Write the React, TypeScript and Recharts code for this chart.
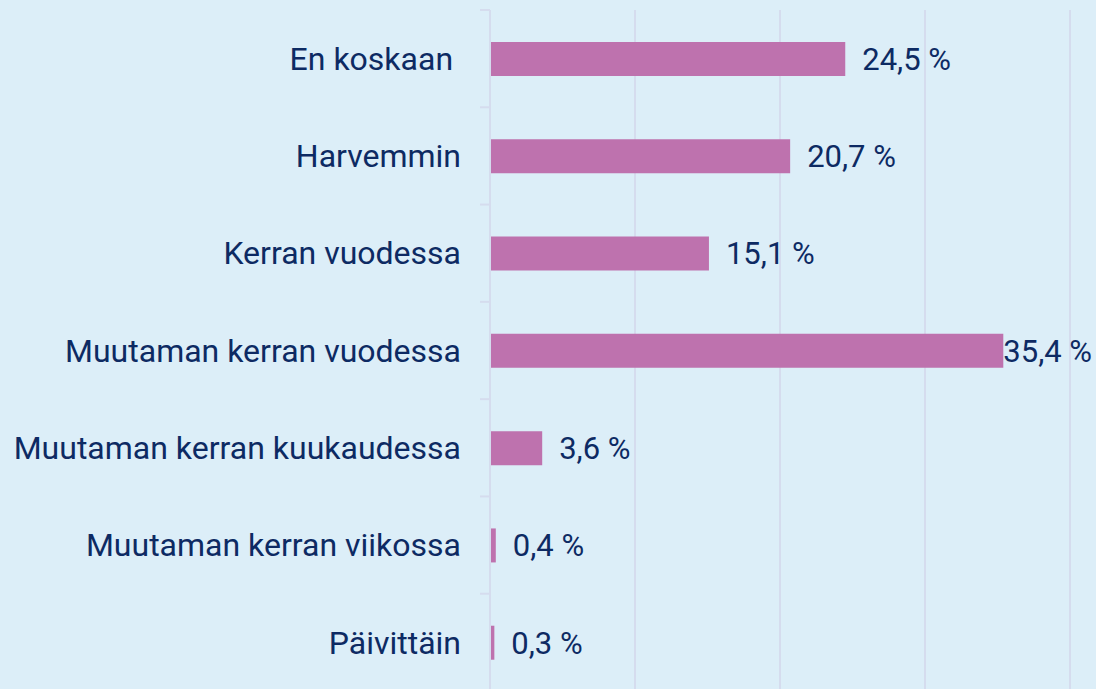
import React from "react";
import { BarChart, Bar, XAxis, YAxis, CartesianGrid, LabelList } from "recharts";

const categories = [
  "En koskaan ",
  "Harvemmin",
  "Kerran vuodessa",
  "Muutaman kerran vuodessa",
  "Muutaman kerran kuukaudessa",
  "Muutaman kerran viikossa",
  "Päivittäin",
];
const shares = [24.5, 20.7, 15.1, 35.4, 3.6, 0.4, 0.3];
const xTicks = [0, 10, 20, 30, 40];

const data = categories.map((name, i) => ({ name, value: shares[i] }));

const W = 1096;
const H = 689;
const TOP = 10;
const BOTTOM = -2;
const BAND = (H - TOP - BOTTOM) / categories.length;
const TEXT = "#0D2A63";
const GRID = "#D5DCEE";
const FONT = "Roboto, sans-serif";

const fmt = (v: number) => v.toFixed(1).replace(".", ",") + " %";

function CategoryTick(props: any) {
  const { x, y, payload, index } = props;
  const last = index === categories.length - 1;
  return (
    <g>
      <line x1={480} x2={490} y1={y - BAND / 2} y2={y - BAND / 2} stroke={GRID} strokeWidth={2} />
      {last && <line x1={480} x2={490} y1={y + BAND / 2} y2={y + BAND / 2} stroke={GRID} strokeWidth={2} />}
      <text x={x - 21} y={y} dy="0.35em" textAnchor="end" fill={TEXT} fontSize={32} fontFamily={FONT} xmlSpace="preserve">
        {payload.value}
      </text>
    </g>
  );
}

function ValueLabel(props: any) {
  const { x, y, width, height, value } = props;
  const text = fmt(value);
  let tx = x + width + 17;
  const approx = text.length * 15;
  if (tx + approx > W) tx = x + width;
  return (
    <text x={tx} y={y + height / 2} dy="0.35em" fill={TEXT} fontSize={31} fontFamily={FONT}>
      {text}
    </text>
  );
}

export default function App() {
  return (
    <div style={{ position: "fixed", left: 0, top: 0, width: W, height: H, background: "#DCEEF8", overflow: "hidden" }}>
      <BarChart
        width={W}
        height={H}
        data={data}
        layout="vertical"
        margin={{ top: TOP, right: 26, bottom: BOTTOM, left: 0 }}
        barSize={34}
      >
        <CartesianGrid horizontal={false} vertical stroke={GRID} strokeWidth={2} />
        <XAxis type="number" domain={[0, 40]} ticks={xTicks} hide />
        <YAxis
          type="category"
          dataKey="name"
          width={490}
          axisLine={{ stroke: GRID, strokeWidth: 2 }}
          tickLine={false}
          tick={<CategoryTick />}
          interval={0}
        />
        <Bar dataKey="value" fill="#BE72AE" isAnimationActive={false}>
          <LabelList dataKey="value" content={<ValueLabel />} />
        </Bar>
      </BarChart>
    </div>
  );
}
